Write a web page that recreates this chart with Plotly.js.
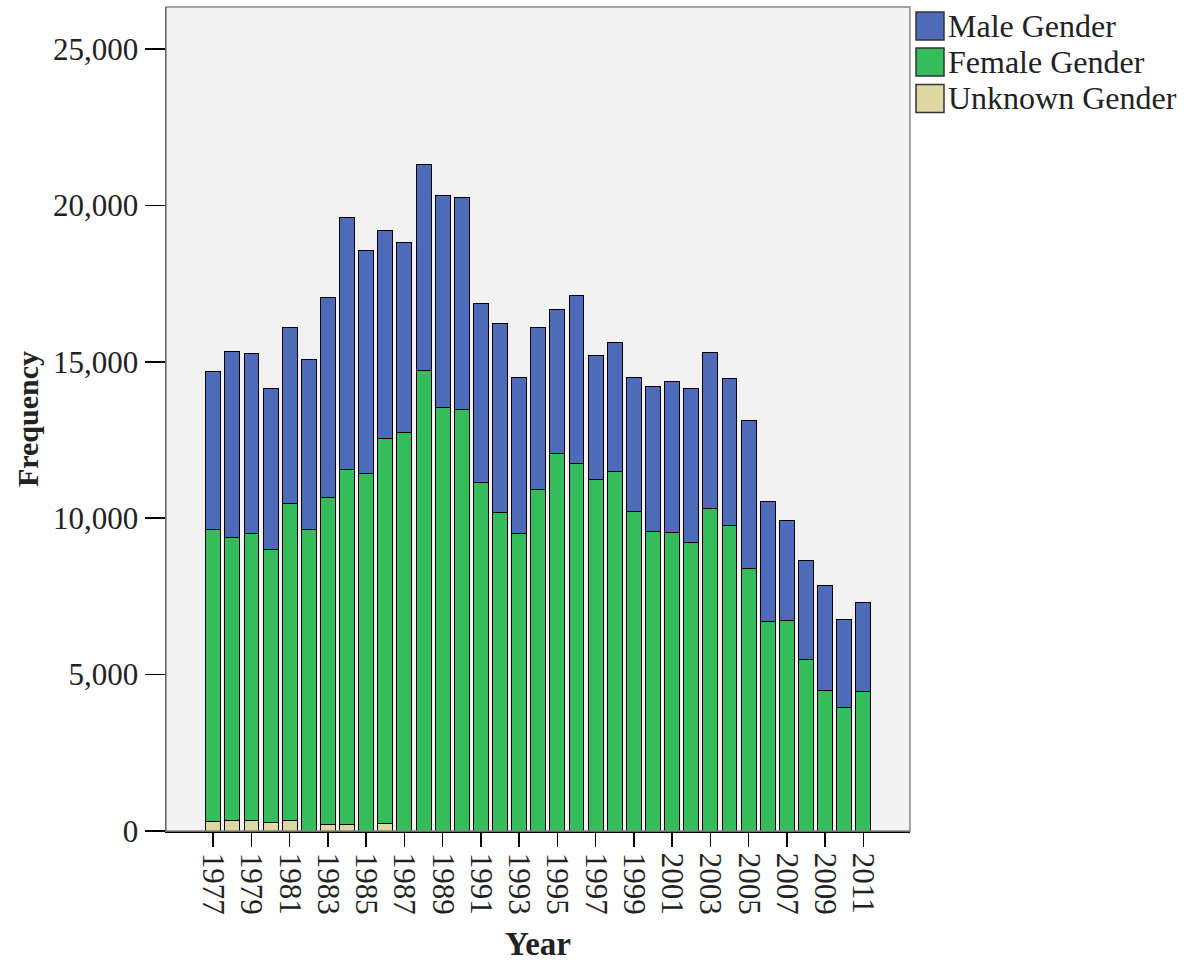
<!DOCTYPE html>
<html>
<head>
<meta charset="utf-8">
<script src="https://cdn.plot.ly/plotly-3.0.1.min.js"></script>
<style>
  html, body { margin: 0; padding: 0; background: #ffffff; }
  #chart { width: 1188px; height: 966px; }
</style>
</head>
<body>
<div id="chart"></div>
<script>
const years = [1977,1978,1979,1980,1981,1982,1983,1984,1985,1986,1987,1988,1989,1990,1991,1992,1993,1994,1995,1996,1997,1998,1999,2000,2001,2002,2003,2004,2005,2006,2007,2008,2009,2010,2011];
const unknownGender = [300,320,320,270,330,0,210,210,0,235,0,0,0,0,0,0,0,0,0,0,0,0,0,0,0,0,0,0,0,0,0,0,0,0,0];
const femaleGender = [9350,9070,9200,8720,10150,9650,10460,11360,11420,12320,12740,14720,13540,13460,11140,10190,9520,10930,12060,11760,11230,11490,10210,9570,9540,9220,10320,9780,8380,6700,6720,5470,4490,3960,4450];
const maleGender = [5040,5940,5730,5140,5600,5410,6370,8030,7140,6630,6080,6580,6780,6790,5710,6020,4990,5150,4600,5350,3970,4110,4290,4640,4830,4920,4980,4690,4730,3820,3200,3180,3360,2790,2870];
const tickYears = [1977,1979,1981,1983,1985,1987,1989,1991,1993,1995,1997,1999,2001,2003,2005,2007,2009,2011];
const yTicks = [0,5000,10000,15000,20000,25000];
const seriesNames = ['Male Gender','Female Gender','Unknown Gender'];
const seriesColors = ['#4e6bba','#34bd5a','#ddd7a2'];

const FONT = 'Liberation Serif, Times New Roman, serif';
const W = 1188, H = 966;
const L = 166, R = 910, T = 7, B = 831;
const pw = R - L, ph = B - T;

function bar(name, vals, color) {
  return {
    type: 'bar', name: name, x: years, y: vals, width: 0.78,
    marker: { color: color, line: { color: '#000000', width: 1 } },
    showlegend: false, hoverinfo: 'x+y+name'
  };
}

const data = [
  bar(seriesNames[2], unknownGender, seriesColors[2]),
  bar(seriesNames[1], femaleGender, seriesColors[1]),
  bar(seriesNames[0], maleGender, seriesColors[0])
];

// custom legend (large swatches)
const shapes = [
  { type: 'rect', xref: 'paper', yref: 'paper', x0: 0, x1: 1, y0: 0, y1: 1,
    line: { color: '#888888', width: 1.5 }, fillcolor: 'rgba(0,0,0,0)', layer: 'above' }
];
const annotations = [];
const rowY = [26, 62, 98.5];
seriesNames.forEach((n, i) => {
  const cy = rowY[i];
  shapes.push({
    type: 'rect', xref: 'paper', yref: 'paper',
    x0: (916 - L) / pw, x1: (944 - L) / pw,
    y0: (B - (cy + 14)) / ph, y1: (B - (cy - 14)) / ph,
    fillcolor: seriesColors[i], line: { color: '#333333', width: 1.5 }
  });
  annotations.push({
    xref: 'paper', yref: 'paper', x: (946 - L) / pw, y: (B - cy) / ph,
    xanchor: 'left', yanchor: 'middle', showarrow: false,
    text: n, font: { family: FONT, size: 32, color: '#222222' }
  });
});

const layout = {
  width: W, height: H,
  margin: { l: L, r: W - R, t: T, b: H - B, pad: 0 },
  paper_bgcolor: '#ffffff', plot_bgcolor: '#f2f2f2',
  barmode: 'stack', showlegend: false,
  font: { family: FONT, color: '#222222' },
  xaxis: {
    type: 'linear', range: [1974.53, 2013.44],
    tickmode: 'array', tickvals: tickYears, ticktext: tickYears.map(String),
    tickangle: 90, ticks: 'outside', ticklen: 14, tickwidth: 1.5, tickcolor: '#000000',
    tickfont: { family: FONT, size: 31, color: '#222222' },
    showline: true, linecolor: '#000000', linewidth: 1.5,
    showgrid: false, zeroline: false,
    title: { text: '<b>Year</b>', font: { family: FONT, size: 33, color: '#222222' }, standoff: 18 }
  },
  yaxis: {
    range: [0, 26340],
    tickmode: 'array', tickvals: yTicks, ticktext: yTicks.map(v => v.toLocaleString('en-US')),
    ticks: 'outside', ticklen: 20, tickwidth: 1.5, tickcolor: '#000000',
    tickfont: { family: FONT, size: 31, color: '#222222' },
    showline: true, linecolor: '#000000', linewidth: 1.5,
    showgrid: false, zeroline: false,
    title: { text: '<b>Frequency</b>', font: { family: FONT, size: 30, color: '#222222' }, standoff: 5 }
  },
  shapes: shapes,
  annotations: annotations
};

Plotly.newPlot('chart', data, layout, { displayModeBar: false, staticPlot: true });
</script>
</body>
</html>
